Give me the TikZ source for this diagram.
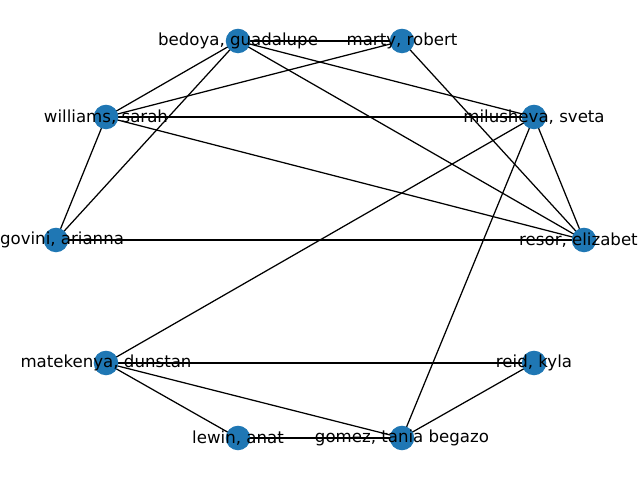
\documentclass[tikz,border=0pt]{standalone}
\usepackage{fontspec}
\setmainfont{DejaVu Sans}
\usetikzlibrary{backgrounds}

\tikzset{
  dot/.style={circle,fill=nodeblue,minimum size=0.245in,inner sep=0pt},
  person/.style={dot,
    label={[font=\fontsize{12}{14}\selectfont,inner sep=0pt]center:#1}},
  person shifted/.style 2 args={dot,
    label={[font=\fontsize{12}{14}\selectfont,inner sep=0pt,xshift=#2]center:#1}},
  tie/.style={black,line width=0.9pt}
}
\definecolor{nodeblue}{HTML}{1F77B4}

\begin{document}
\begin{tikzpicture}[x=0.01in,y=-0.01in]
\useasboundingbox (0,0) rectangle (640,480);
\clip (0,0) rectangle (640,480);

% people on the ring
\node[person={bedoya, guadalupe}] (bedoya) at (238,41) {};
\node[person={marty, robert}] (marty) at (402,41) {};
\node[person={williams, sarah}] (williams) at (106,117) {};
\node[person={milusheva, sveta}] (milusheva) at (534,117) {};
\node[person shifted={govini, arianna}{0.06in}] (govini) at (56,240) {};
\node[person shifted={resor, elizabet}{-0.055in}] (resor) at (584,240) {};
\node[person={matekenya, dunstan}] (matekenya) at (106,363) {};
\node[person={reid, kyla}] (reid) at (534,363) {};
\node[person={lewin, anat}] (lewin) at (238,438) {};
\node[person={gomez, tania begazo}] (gomez) at (402,438) {};

\begin{pgfonlayer}{background}
\foreach \a/\b in {bedoya/marty, bedoya/williams, bedoya/milusheva, bedoya/resor,
  bedoya/govini, marty/williams, marty/resor, williams/milusheva, williams/resor,
  williams/govini, govini/resor, milusheva/resor, milusheva/matekenya,
  milusheva/gomez, matekenya/reid, matekenya/lewin, matekenya/gomez,
  lewin/gomez, gomez/reid}
  \draw[tie] (\a.center) -- (\b.center);
\end{pgfonlayer}
\end{tikzpicture}
\end{document}
